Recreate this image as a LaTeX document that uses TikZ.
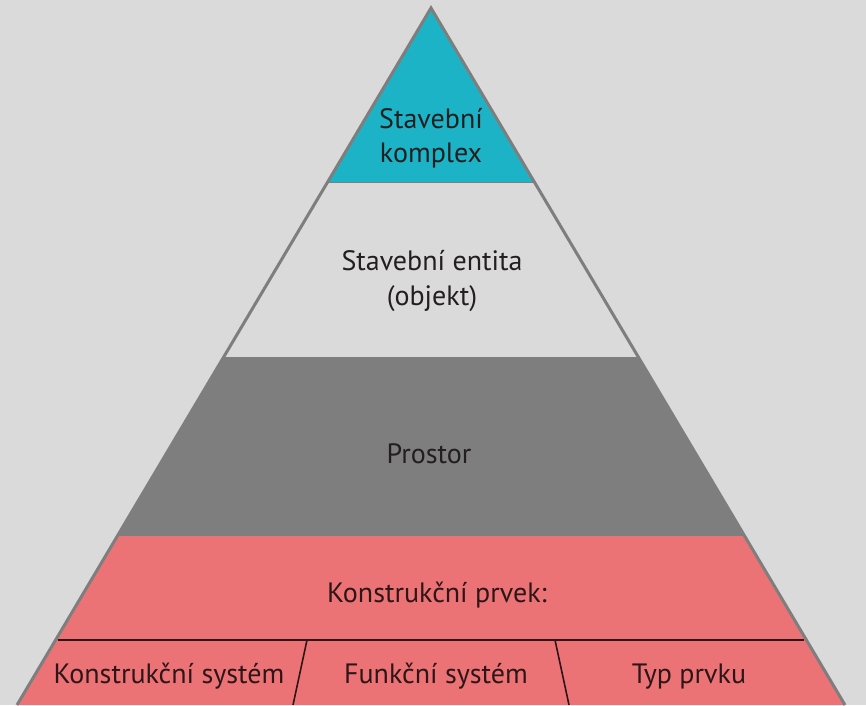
\documentclass[tikz,border=0pt]{standalone}
\usepackage{fontspec}
\setmainfont{PT Sans}
\usetikzlibrary{calc}
\definecolor{bg}{HTML}{DADADA}
\definecolor{edge}{HTML}{7E7E7E}
\definecolor{cyanband}{HTML}{1DB3C6}
\definecolor{lightband}{HTML}{DADADA}
\definecolor{greyband}{HTML}{7F7E7F}
\definecolor{redband}{HTML}{EC7375}
\definecolor{ink}{HTML}{231F20}
\definecolor{redink}{HTML}{2E1618}
\begin{document}
\begin{tikzpicture}[x=1pt,y=1pt,
  lbl/.style={font=\fontsize{28}{34}\selectfont, text=ink, anchor=base, inner sep=0pt},
  redlbl/.style={lbl, text=redink},
  seam/.style={draw=edge, line width=1.2pt},
  divider/.style={draw=redink, line width=1.6pt}]
  % canvas
  \fill[bg] (0,0) rectangle (866,705);
  \useasboundingbox (0,0) rectangle (866,705);
  % outline corners of the pyramid
  \coordinate (apex) at (431,697);
  \coordinate (bl) at (17,0);
  \coordinate (br) at (845,0);
  % band boundaries (left/right edge points)
  \coordinate (l1) at ($(apex)!0.25!(bl)$);
  \coordinate (r1) at ($(apex)!0.25!(br)$);
  \coordinate (l2) at ($(apex)!0.502!(bl)$);
  \coordinate (r2) at ($(apex)!0.502!(br)$);
  \coordinate (l3) at ($(apex)!0.756!(bl)$);
  \coordinate (r3) at ($(apex)!0.756!(br)$);
  \coordinate (l4) at ($(apex)!0.9067!(bl)$);
  \coordinate (r4) at ($(apex)!0.9067!(br)$);
  % bands
  \fill[redband] (l3) -- (r3) -- (br) -- (bl) -- cycle;
  \fill[greyband] (l2) -- (r2) -- (r3) -- (l3) -- cycle;
  \fill[lightband] (l1) -- (r1) -- (r2) -- (l2) -- cycle;
  \fill[cyanband] (apex) -- (r1) -- (l1) -- cycle;
  % seams between bands
  \draw[seam] (l1) -- (r1);
  \draw[seam] (l2) -- (r2);
  \draw[seam] (l3) -- (r3);
  % outer outline
  \draw[edge, line width=3pt, line join=miter] (bl) -- (apex) -- (br);
  % subdivision of the lowest band
  \coordinate (d1t) at (307,65);
  \coordinate (d1b) at (293,0);
  \coordinate (d2t) at (555,65);
  \coordinate (d2b) at (569,0);
  \draw[divider] ($(l4)+(2,0)$) -- ($(r4)+(-2,0)$);
  \draw[divider] (d1t) -- (d1b);
  \draw[divider] (d2t) -- (d2b);
  % labels
  \node[lbl] (komplexA) at (431,576) {Stavební};
  \node[lbl] (komplexB) at (431,542) {komplex};
  \node[lbl] (entitaA) at (432,435) {Stavební entita};
  \node[lbl] (entitaB) at (432,400) {(objekt)};
  \node[lbl] (prostor) at (429,242) {Prostor};
  \node[redlbl] (prvek) at (437,103) {Konstrukční prvek:};
  \node[redlbl] (ksys) at (169,22) {Konstrukční systém};
  \node[redlbl] (fsys) at (436,22) {Funkční systém};
  \node[redlbl] (typ) at (689,22) {Typ prvku};
\end{tikzpicture}
\end{document}
